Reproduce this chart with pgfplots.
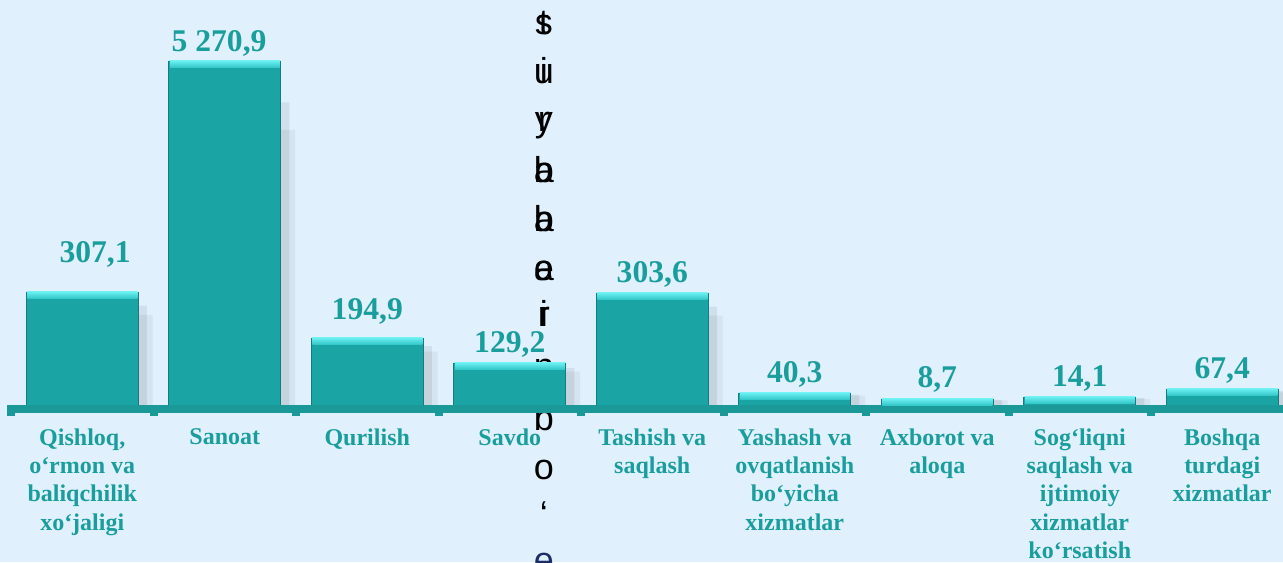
\documentclass[border=0pt]{standalone}
\usepackage{pgfplots}
\pgfplotsset{compat=1.18}
\usepackage{pgfplotstable}
\usepackage{fontspec}
\setmainfont{Liberation Serif}
\newfontfamily\arial{Liberation Sans}

\definecolor{bgblue}{RGB}{224,241,253}
\definecolor{barface}{RGB}{27,164,164}
\definecolor{bartop}{RGB}{105,238,240}
\definecolor{bartopb}{RGB}{50,198,200}
\definecolor{baredge}{RGB}{22,122,126}
\definecolor{tealtxt}{RGB}{26,157,157}
\definecolor{band}{RGB}{27,152,152}
\definecolor{navy}{RGB}{30,45,105}

% h = drawn bar height (the source chart is not to scale), lab = printed value
% lx, ly = where the value label sits (baseline)
\pgfplotstableread[col sep=semicolon]{
x;h;lx;ly;lab
0;114;0.09;143;307,1
1;345;0.96;354;5 270,9
2;68;2.00;86;194,9
3;43;3.00;53;129,2
4;113;4.00;123;303,6
5;13;5.00;23;40,3
6;7;6.00;18;8,7
7;9;7.00;19;14,1
8;17;8.00;27;67,4
}\data

\newcommand\vch[3][black]{\node[anchor=base, inner sep=0pt, text=#1,
  font=\arial\fontsize{18}{18}\selectfont] at (axis cs:3.24,#2) {#3};}

\begin{document}
\begin{tikzpicture}
\fill[bgblue] (0,0) rectangle (641.5pt,281pt);
\begin{axis}[
  at={(0,0)}, anchor=south west,
  scale only axis,
  width=641.5pt, height=281pt,
  xmin=-0.5772, xmax=8.4263,
  ymin=-156, ymax=406,
  axis line style={draw=none},
  tick style={draw=none},
  major tick length=0pt,
  ytick=\empty,
  xtick={0,...,8},
  xticklabels={
    {Qishloq,\\o‘rmon va\\baliqchilik\\xo‘jaligi},
    Sanoat, Qurilish, Savdo,
    {Tashish va\\saqlash},
    {Yashash va\\ovqatlanish\\bo‘yicha\\xizmatlar},
    {Axborot va\\aloqa},
    {Sog‘liqni\\saqlash va\\ijtimoiy\\xizmatlar\\ko‘rsatish},
    {Boshqa\\turdagi\\xizmatlar}},
  xticklabel style={anchor=north, inner sep=0pt, yshift=67pt, align=center,
    text=tealtxt, font=\bfseries\fontsize{12}{14.2}\selectfont},
  clip=false,
]
% stray vertical title, drawn behind the bars
\vch{371}{t}\vch{371}{s}
\vch{322}{i}\vch{322}{u}
\vch{274}{r}\vch{274}{y}
\vch{223}{b}\vch{223}{a}
\vch{174}{b}\vch{174}{a}
\vch{125}{e}\vch{125}{a}
\vch{79}{i}\vch{79}{r}
\vch{28}{n}
\vch{-24}{b}
\vch{-73}{o}
\vch{-120}{‘}
\vch[navy]{-166}{e}

% soft shadow, two layers
\addplot[ybar, bar width=0.786, bar shift=0.10, draw=none,
  fill=black, fill opacity=0.05]
  table[x=x, y expr=\thisrow{h}*0.8] {\data};
\addplot[ybar, bar width=0.786, bar shift=0.06, draw=none,
  fill=black, fill opacity=0.07]
  table[x=x, y expr=\thisrow{h}*0.88] {\data};
% bars, with a lighter top edge
\addplot[ybar, bar width=0.786, bar shift=0, fill=barface,
  draw=baredge, line width=0.4pt,
  nodes near coords={}, point meta=y,
  nodes near coords style={anchor=north, inner sep=0pt, outer sep=0pt,
    rectangle, minimum width=55pt, minimum height=3.2pt,
    top color=bartop, bottom color=bartopb, draw=none}]
  table[x=x, y=h] {\data};
% value labels
\addplot[draw=none, mark=none, nodes near coords, point meta=explicit symbolic,
  nodes near coords style={anchor=base, inner sep=0pt, text=tealtxt,
    font=\bfseries\fontsize{15.8}{15.8}\selectfont}]
  table[x=lx, y=ly, meta=lab] {\data};

% base band with ticks
\draw[band, line width=4pt] (axis cs:-0.528,-3) -- (axis cs:8.6,-3);
\pgfplotsinvokeforeach{0,...,9}{
  \draw[band, line width=4pt] (axis cs:#1-0.5,-3) -- (axis cs:#1-0.5,-10);
}
\end{axis}
\pgfresetboundingbox
\path (0,0) rectangle (641.5pt,281pt);
\end{tikzpicture}
\end{document}
